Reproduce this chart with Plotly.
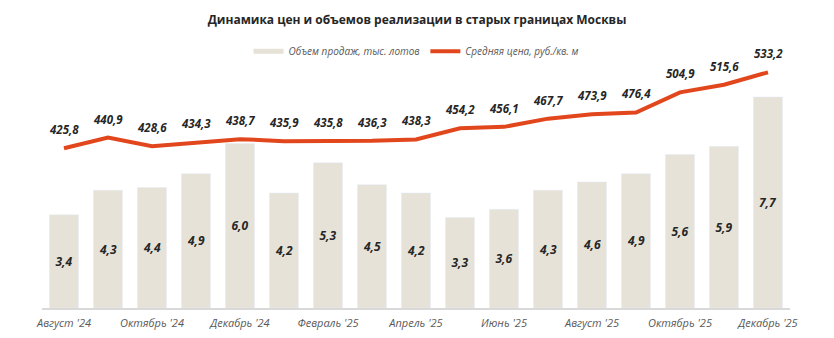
import plotly.graph_objects as go

months = ["Август '24", "Сентябрь '24", "Октябрь '24", "Ноябрь '24", "Декабрь '24",
          "Январь '25", "Февраль '25", "Март '25", "Апрель '25", "Май '25", "Июнь '25",
          "Июль '25", "Август '25", "Сентябрь '25", "Октябрь '25", "Ноябрь '25", "Декабрь '25"]
volume = [3.4, 4.3, 4.4, 4.9, 6.0, 4.2, 5.3, 4.5, 4.2, 3.3, 3.6, 4.3, 4.6, 4.9, 5.6, 5.9, 7.7]
price = [425.8, 440.9, 428.6, 434.3, 438.7, 435.9, 435.8, 436.3, 438.3, 454.2, 456.1,
         467.7, 473.9, 476.4, 504.9, 515.6, 533.2]
tick_labels = months[::2]

title = "Динамика цен и объемов реализации в старых границах Москвы"
name_bar = "Объем продаж, тыс. лотов"
name_line = "Средняя цена, руб./кв. м"

FONT = "Open Sans"
BAR_COLOR = "#E7E2D8"
LINE_COLOR = "#E2461C"
LABEL_COLOR = "#262626"
GRAY = "#595959"

fig = go.Figure()
fig.add_trace(go.Bar(
    x=months, y=volume, name=name_bar, marker_color=BAR_COLOR, showlegend=False,
    texttemplate="%{y:.1f}", textposition="inside", insidetextanchor="middle",
    textangle=0,
    textfont=dict(family=FONT, size=12, color=LABEL_COLOR, weight="bold", style="italic"),
    yaxis="y",
))
# legend entry for the bars, drawn as a thick line swatch like the original
fig.add_trace(go.Scatter(
    x=[None], y=[None], name=name_bar, mode="lines",
    line=dict(color=BAR_COLOR, width=5), yaxis="y",
))
fig.add_trace(go.Scatter(
    x=months, y=price, name=name_line, mode="lines",
    line=dict(color=LINE_COLOR, width=4), yaxis="y2",
))

for m, p in zip(months, price):
    fig.add_annotation(
        x=m, y=p, xref="x", yref="y2", text=f"{p:.1f}".replace(".", ","), showarrow=False,
        yanchor="bottom", yshift=9,
        font=dict(family=FONT, size=11.5, color=LABEL_COLOR, weight="bold", style="italic"),
    )

fig.update_layout(
    width=834, height=338,
    margin=dict(l=42, r=44, t=60, b=30, autoexpand=False),
    paper_bgcolor="white", plot_bgcolor="white",
    separators=", ",
    bargap=0.34,
    showlegend=True,
    title=dict(text=title, x=0.5, xanchor="center", y=0.94, yanchor="middle",
               font=dict(family=FONT, size=12, color=LABEL_COLOR, weight="bold")),
    legend=dict(orientation="h", x=0.5, xanchor="center", y=1.035, yanchor="middle",
                font=dict(family=FONT, size=10, color=GRAY, style="italic"),
                itemwidth=30, tracegroupgap=0),
    xaxis=dict(type="category", tickmode="array", tickvals=tick_labels, ticktext=tick_labels,
               showline=True, linecolor="#D9D9D9", linewidth=1.5, ticks="",
               ticklabelstandoff=4, automargin=False,
               tickfont=dict(family=FONT, size=11, color=GRAY, style="italic"),
               showgrid=False),
    yaxis=dict(range=[0, 9.05], visible=False, showgrid=False, automargin=False),
    yaxis2=dict(range=[200, 550.6], overlaying="y", side="right", visible=False,
                showgrid=False, automargin=False),
)

fig.write_html("out.html")
